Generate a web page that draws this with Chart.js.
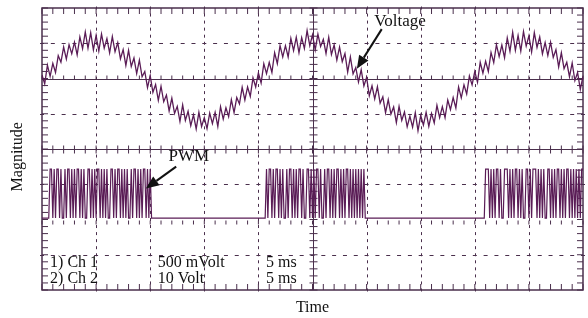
<!DOCTYPE html>
<html>
<head>
<meta charset="utf-8">
<script src="https://cdn.jsdelivr.net/npm/chart.js@4.4.1/dist/chart.umd.min.js"></script>
<style>
  html, body { margin: 0; padding: 0; background: #fff; }
</style>
</head>
<body>
<canvas id="scope" width="588" height="318"></canvas>
<script>
// time axis: 5 ms per division, 10 divisions
const timeRange = [0, 50];
const timeDivs = [0, 5, 10, 15, 20, 25, 30, 35, 40, 45, 50];
// magnitude axis in screen divisions
const magRange = [-4, 4];
const magDivs = [-4, -3, -2, -1, 0, 1, 2, 3, 4];

// Ch 1 voltage trace (screen divisions), one sample every 0.25 ms
const ch1Step = 0.25;
const ch1Trace = [
  2.10,1.85,2.38,2.06,2.43,2.17,2.65,2.46,2.89,2.55,
  2.96,2.70,3.03,2.67,3.18,2.85,3.32,2.86,3.30,2.81,
  3.22,2.78,3.26,2.86,3.13,2.73,3.19,2.76,3.02,2.56,
  2.82,2.37,2.80,2.34,2.58,2.14,2.52,2.05,2.20,1.74,
  2.08,1.61,1.83,1.38,1.78,1.34,1.53,1.08,1.44,1.01,
  1.21,0.78,1.25,0.81,1.07,0.66,0.97,0.57,1.04,0.64,
  0.89,0.58,1.02,0.72,1.04,0.64,1.20,0.85,1.17,0.92,
  1.40,1.03,1.46,1.28,1.75,1.39,1.76,1.49,2.02,1.76,
  2.16,1.87,2.42,2.14,2.46,2.17,2.73,2.42,2.93,2.61,
  2.93,2.61,3.14,2.79,3.17,2.73,3.16,2.85,3.36,2.93,
  3.24,2.81,3.26,2.91,3.11,2.71,3.17,2.68,2.95,2.52,
  2.89,2.48,2.71,2.18,2.61,2.13,2.31,1.90,2.25,1.79,
  2.03,1.51,1.79,1.42,1.77,1.30,1.48,1.03,1.40,0.99,
  1.19,0.75,1.21,0.81,1.05,0.63,0.93,0.62,1.03,0.52,
  0.95,0.68,1.04,0.64,1.01,0.74,1.24,0.89,1.20,0.89,
  1.39,1.12,1.46,1.16,1.76,1.45,1.82,1.56,2.07,1.82,
  2.20,1.89,2.46,2.15,2.49,2.20,2.74,2.45,2.96,2.62,
  2.95,2.59,3.15,2.77,3.31,2.80,3.22,2.78,3.33,2.92,
  3.21,2.75,3.30,2.88,3.18,2.70,3.02,2.65,3.03,2.60,
  2.82,2.33,2.73,2.28,2.46,2.05,2.44,1.94,2.17,1.69,
  2.06
];

// Ch 2 PWM: bursts start (ms), on/off samples every 0.125 ms
const pwmStep = 0.125;
const pwmStarts = [0.5, 20.5, 40.75];
const pwmLevels = [-1.96, -0.57]; // off, on (screen divisions)
const pwmBursts = [
  [0,1,1,0,1,0,1,1,0,1, 0,0,1,0,1,1,0,1,0,1, 0,1,1,0,1,0,1,0,0,1, 1,0,1,0,1,0,1,1,0,1,
   0,1,0,1,0,0,1,1,0,1, 0,1,1,0,1,0,1,0,1,0, 0,1,0,1,1,0,1,0,1,0, 1,1,0,1,0,1,0],
  [0,1,0,1,1,0,1,0,1,1, 0,1,0,1,0,0,1,0,1,1, 0,1,0,1,0,1,1,0,1,0, 0,1,1,0,1,0,1,0,1,1,
   0,1,0,0,1,0,1,1,0,1, 0,1,0,1,1,0,1,0,1,0, 1,1,0,1,0,1,0,1,0,1, 0,1,0,1,0],
  [0,1,1,1,0,1,0,1,0,1, 1,0,1,0,0,1,1,1,0,1, 0,1,0,1,1,0,1,0,1,0, 0,1,1,0,1,0,1,1,1,0,
   1,0,1,0,1,0,0,1,1,0, 1,0,1,0,1,1,0,1,0,1, 0,1,1,0,1,0,1,0,1,0, 1,0,1,1]
];

// texts on the screen
const chRows = [['1) Ch 1', '500 mVolt', '5 ms'], ['2) Ch 2', '10 Volt', '5 ms']];
const xTitle = 'Time';
const yTitle = 'Magnitude';

const inkColor = '#5a1c56';
const gridColor = '#4a2f4c';
const serif = '"Liberation Serif", "DejaVu Serif", serif';

const ch1Points = ch1Trace.map((v, i) => ({ x: i * ch1Step, y: v }));

const pwmPoints = [{ x: timeRange[0], y: pwmLevels[0] }];
pwmBursts.forEach((burst, n) => {
  const t0 = pwmStarts[n];
  pwmPoints.push({ x: t0, y: pwmLevels[0] });
  burst.forEach((v, i) => pwmPoints.push({ x: t0 + (i + 1) * pwmStep, y: pwmLevels[v] }));
});

function line(ctx, x1, y1, x2, y2) {
  ctx.moveTo(x1, y1);
  ctx.lineTo(x2, y2);
}

// scope graticule, drawn from the scales
const graticule = {
  id: 'graticule',
  beforeDatasetsDraw(chart) {
    const { ctx, chartArea: a, scales: { x, y } } = chart;
    const minorX = [], minorY = [];
    for (let t = timeRange[0]; t <= timeRange[1] + 1e-6; t += 1) minorX.push(x.getPixelForValue(t));
    for (let d = magRange[0]; d <= magRange[1] + 1e-6; d += 0.2) minorY.push(y.getPixelForValue(d));

    ctx.save();
    ctx.strokeStyle = gridColor;
    ctx.lineWidth = 1;
    ctx.beginPath();

    // dotted verticals and dashed horizontals
    timeDivs.slice(1, -1).forEach(t => {
      if (t === 25) return;
      const px = Math.round(x.getPixelForValue(t)) + 0.5;
      minorY.forEach(py => line(ctx, px, py - 1.5, px, py + 1.5));
    });
    magDivs.slice(1, -1).forEach(d => {
      if (d % 2 === 0) return;
      const py = Math.round(y.getPixelForValue(d)) + 0.5;
      minorX.forEach(px => line(ctx, px - 2, py, px + 2, py));
    });

    // center cross with ticks
    const cx = Math.round(x.getPixelForValue(25)) + 0.5;
    const cy = Math.round(y.getPixelForValue(0)) + 0.5;
    line(ctx, cx, a.top, cx, a.bottom);
    line(ctx, a.left, cy, a.right, cy);
    minorY.forEach(py => line(ctx, cx - 4, py, cx + 4, py));
    minorX.forEach(px => line(ctx, px, cy - 4, px, cy + 4));

    // channel ground lines
    const g1 = Math.round(y.getPixelForValue(2)) + 0.5;
    const g2 = Math.round(y.getPixelForValue(-2)) + 0.5;
    line(ctx, a.left, g1, a.right, g1);
    minorX.forEach(px => line(ctx, px, g1 - 4, px, g1));
    minorX.forEach(px => line(ctx, px, g2, px, g2 + 4));

    // border ticks
    minorX.forEach(px => {
      line(ctx, px, a.top, px, a.top + 6);
      line(ctx, px, a.bottom, px, a.bottom - 6);
    });
    minorY.forEach(py => {
      line(ctx, a.left, py, a.left + 6, py);
      line(ctx, a.right, py, a.right - 6, py);
    });
    ctx.stroke();

    ctx.lineWidth = 1.5;
    ctx.strokeRect(a.left, a.top, a.right - a.left, a.bottom - a.top);
    ctx.restore();
  }
};

function arrow(ctx, x1, y1, x2, y2) {
  const ang = Math.atan2(y2 - y1, x2 - x1);
  const len = 13, half = 5.5;
  const bx = x2 - len * Math.cos(ang), by = y2 - len * Math.sin(ang);
  ctx.beginPath();
  ctx.moveTo(x1, y1);
  ctx.lineTo(bx, by);
  ctx.stroke();
  ctx.beginPath();
  ctx.moveTo(x2, y2);
  ctx.lineTo(bx + half * Math.sin(ang), by - half * Math.cos(ang));
  ctx.lineTo(bx - half * Math.sin(ang), by + half * Math.cos(ang));
  ctx.closePath();
  ctx.fill();
}

// labels, arrows, channel info and the magnitude title
const notes = {
  id: 'notes',
  afterDatasetsDraw(chart) {
    const { ctx, chartArea: a, scales: { x, y } } = chart;
    ctx.save();
    ctx.fillStyle = '#111';
    ctx.strokeStyle = '#111';
    ctx.lineWidth = 2;
    ctx.font = '17px ' + serif;
    ctx.textBaseline = 'middle';
    ctx.textAlign = 'left';

    ctx.fillText('Voltage', x.getPixelForValue(30.7), y.getPixelForValue(3.62));
    arrow(ctx, x.getPixelForValue(31.4), y.getPixelForValue(3.40),
               x.getPixelForValue(29.1), y.getPixelForValue(2.28));
    ctx.fillText('PWM', x.getPixelForValue(11.7), y.getPixelForValue(-0.22));
    arrow(ctx, x.getPixelForValue(12.4), y.getPixelForValue(-0.50),
               x.getPixelForValue(9.6), y.getPixelForValue(-1.12));

    ctx.font = '16px ' + serif;
    const cols = [0.75, 10.7, 20.7];
    const rows = [-3.22, -3.68];
    chRows.forEach((row, r) => row.forEach((txt, c) => {
      ctx.fillText(txt, x.getPixelForValue(cols[c]), y.getPixelForValue(rows[r]));
    }));

    ctx.font = '16px ' + serif;
    ctx.textAlign = 'center';
    ctx.translate(18, y.getPixelForValue(-0.22));
    ctx.rotate(-Math.PI / 2);
    ctx.fillText(yTitle, 0, 0);
    ctx.restore();
  }
};

new Chart(document.getElementById('scope'), {
  type: 'line',
  data: {
    datasets: [
      { label: 'Voltage', data: ch1Points, borderColor: inkColor, borderWidth: 1.3 },
      { label: 'PWM', data: pwmPoints, borderColor: inkColor, borderWidth: 1.2 }
    ]
  },
  options: {
    responsive: false,
    devicePixelRatio: 1,
    animation: false,
    layout: { padding: { top: 8, right: 5, left: 0, bottom: 0 } },
    elements: { point: { radius: 0 }, line: { tension: 0 } },
    plugins: { legend: { display: false }, tooltip: { enabled: false } },
    scales: {
      x: {
        type: 'linear', min: timeRange[0], max: timeRange[1],
        grid: { display: false }, border: { display: false },
        ticks: { display: false },
        title: { display: true, text: xTitle, color: '#111', font: { family: serif, size: 16 }, padding: { top: 0, bottom: 1 } },
        afterFit: s => { s.height = 28; }
      },
      y: {
        type: 'linear', min: magRange[0], max: magRange[1],
        grid: { display: false }, border: { display: false },
        ticks: { display: false },
        title: { display: false, text: yTitle },
        afterFit: s => { s.width = 42; }
      }
    }
  },
  plugins: [graticule, notes]
});
</script>
</body>
</html>
